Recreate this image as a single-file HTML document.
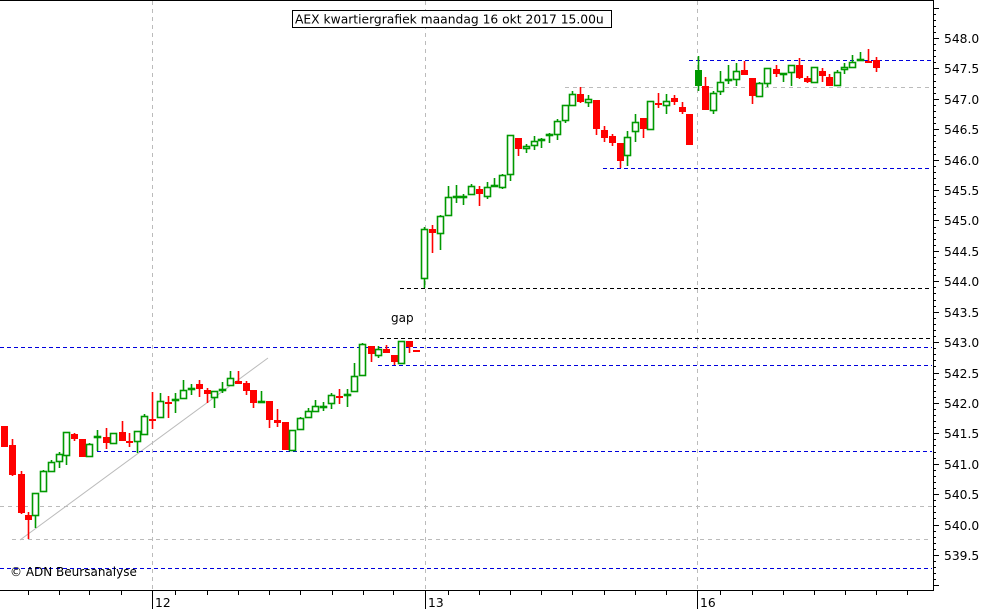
<!DOCTYPE html>
<html><head><meta charset="utf-8"><style>
html,body{margin:0;padding:0;background:#fff;}
svg{display:block;font-family:"DejaVu Sans","Liberation Sans",sans-serif;}
</style></head><body>
<svg id="s" width="982" height="609" viewBox="0 0 982 609" xmlns="http://www.w3.org/2000/svg">
<rect width="982" height="609" fill="#fff"/>
<line x1="0" y1="0.5" x2="933" y2="0.5" stroke="#000"/>
<g stroke="#bbb" stroke-dasharray="4,4" stroke-width="1">
<line x1="152.5" y1="1" x2="152.5" y2="590"/>
<line x1="425.5" y1="1" x2="425.5" y2="590"/>
<line x1="697.5" y1="1" x2="697.5" y2="590"/>
<line x1="565" y1="87.5" x2="932" y2="87.5"/>
<line x1="0" y1="506.5" x2="932" y2="506.5"/>
<line x1="12" y1="539.5" x2="932" y2="539.5"/>
</g>
<line x1="20" y1="540" x2="268" y2="358" stroke="#bbb" stroke-width="1"/>
<g stroke-dasharray="4,3" stroke-width="1">
<line x1="689" y1="60.5" x2="932" y2="60.5" stroke="#0000dd"/>
<line x1="603" y1="168.5" x2="932" y2="168.5" stroke="#0000dd"/>
<line x1="400" y1="288.5" x2="932" y2="288.5" stroke="#000"/>
<line x1="380" y1="338.5" x2="932" y2="338.5" stroke="#000"/>
<line x1="0" y1="347.5" x2="932" y2="347.5" stroke="#0000dd"/>
<line x1="378" y1="365.5" x2="932" y2="365.5" stroke="#0000dd"/>
<line x1="97" y1="451.5" x2="932" y2="451.5" stroke="#0000dd"/>
<line x1="0" y1="568.5" x2="932" y2="568.5" stroke="#0000dd"/>
</g>
<g id="c"></g>
<rect x="292.5" y="10.5" width="319" height="17" fill="#fff" stroke="#000"/>
<text x="295" y="23.5" font-size="12.3" fill="#000">AEX kwartiergrafiek maandag 16 okt 2017 15.00u</text>
<text x="391" y="322" font-size="12" fill="#000">gap</text>
<text x="10" y="576" font-size="12" fill="#000">© ADN Beursanalyse</text>
<line x1="0" y1="590.5" x2="933" y2="590.5" stroke="#000"/>
<line x1="933.5" y1="0" x2="933.5" y2="591" stroke="#000"/>
<g id="t" stroke="#000"></g>
<g font-size="12.3" fill="#000">
<text x="155" y="607">12</text><text x="428" y="607">13</text><text x="700" y="607">16</text>
<text x="944" y="43">548.0</text><text x="944" y="73">547.5</text><text x="944" y="104">547.0</text>
<text x="944" y="134">546.5</text><text x="944" y="165">546.0</text><text x="944" y="195">545.5</text>
<text x="944" y="225">545.0</text><text x="944" y="256">544.5</text><text x="944" y="286">544.0</text>
<text x="944" y="317">543.5</text><text x="944" y="347">543.0</text><text x="944" y="378">542.5</text>
<text x="944" y="408">542.0</text><text x="944" y="438">541.5</text><text x="944" y="469">541.0</text>
<text x="944" y="499">540.5</text><text x="944" y="530">540.0</text><text x="944" y="560">539.5</text>
</g>
</svg>
<script>
var d=[
[4,'r',426,447,426,447],[12,'r',445,475,439,476],[21,'r',474,513,471,514],[28,'r',515,520,512,539],
[35,'g',493,516,493,528],[43,'g',471,492,470,492],[51,'g',462,472,460,472],[59,'g',454,462,452,468],
[66,'g',432,456,432,465],[74,'r',434,439,433,441],[82,'r',439,457,439,457],[89,'g',444,457,443,457],
[97,'g',436,437,430,451],[106,'r',437,443,428,449],[113,'g',433,444,433,444],[122,'r',432,441,421,441],
[129,'r',441,443,433,447],[137,'g',431,442,431,453],[144,'g',416,435,414,435],[152,'r',419,420,392,429],
[160,'g',401,418,393,418],[168,'r',402,404,396,418],[175,'g',399,401,393,413],[183,'g',390,399,380,399],
[191,'g',388,390,384,395],[199,'r',384,389,380,397],[207,'r',390,394,388,403],[214,'g',391,398,391,408],
[222,'g',389,391,382,393],[230,'g',378,386,371,386],[238,'r',381,384,371,384],[246,'r',383,391,381,395],
[253,'r',390,403,390,408],[261,'g',401,402,391,403],[269,'r',401,420,401,428],[277,'r',420,423,409,427],
[285,'r',422,450,422,450],[292,'g',430,451,430,451],[300,'g',418,430,417,430],[308,'g',411,418,408,418],
[315,'g',406,412,400,412],[323,'g',406,407,402,411],[331,'g',395,404,393,409],[339,'r',396,397,389,404],
[347,'g',394,395,389,407],[354,'g',376,392,363,392],[362,'g',344,376,343,376],[371,'r',346,354,346,362],
[378,'g',349,356,346,358],[386,'r',349,353,345,353],[394,'r',355,362,355,365],[401,'g',341,364,341,364],
[409,'r',341,347,341,353],[416,'r',350,352,350,352],
[424,'g',229,279,227,288],[432,'r',229,233,225,253],[440,'g',216,234,215,250],[448,'g',197,216,186,216],
[456,'g',196,197,185,203],[463,'g',196,198,194,205],[471,'g',186,195,184,195],[479,'r',189,194,186,206],
[487,'g',187,197,182,199],[494,'g',185,186,178,187],[502,'g',175,188,174,189],[510,'g',135,175,135,181],
[518,'r',138,149,138,156],[526,'g',146,149,144,153],[534,'g',141,146,136,150],[541,'g',139,140,138,148],
[549,'g',134,135,133,143],[557,'g',121,135,119,140],[565,'g',105,121,105,123],[572,'g',94,106,91,106],
[580,'r',94,102,87,103],[588,'g',99,103,95,107],[596,'r',100,129,100,135],[604,'r',130,138,126,142],
[612,'r',136,143,134,146],[620,'r',143,161,143,168],[627,'g',137,156,131,166],[635,'g',122,132,114,142],
[643,'r',118,129,118,138],[650,'g',101,130,101,130],[658,'r',103,105,93,108],[666,'g',101,106,94,114],
[674,'r',98,102,95,105],[682,'r',107,112,102,114],[689,'r',114,145,114,145],[698,'G',70,86,56,91],
[705,'r',86,110,77,110],[713,'g',93,111,91,114],[720,'g',82,92,71,95],[728,'g',79,81,65,84],
[736,'g',71,80,63,86],[744,'r',70,75,61,75],[752,'r',78,96,78,104],[759,'g',83,97,82,97],
[767,'g',68,84,68,87],[776,'r',69,74,65,77],[783,'g',73,74,73,82],[791,'g',65,73,65,86],
[799,'r',65,78,58,79],[807,'r',78,82,76,83],[814,'g',67,83,67,83],[822,'r',71,76,68,82],
[829,'r',77,86,74,86],[837,'g',72,86,70,86],[844,'g',67,70,63,74],[852,'g',62,68,55,68],
[860,'g',59,61,52,61],[868,'r',61,62,49,62],[876,'r',60,68,57,72]];
var ns='http://www.w3.org/2000/svg',g=document.getElementById('c');
function el(n,a){var e=document.createElementNS(ns,n);for(var k in a)e.setAttribute(k,a[k]);return e;}
d.forEach(function(c){
 var x=c[0],col=c[1]=='r'?'#f00':'#090',t=c[2],b=c[3];if(b-t<2)b=t+2;
 g.appendChild(el('line',{x1:x+.5,x2:x+.5,y1:c[4],y2:c[5],stroke:col,'stroke-width':1.6}));
 if(c[1]=='g')g.appendChild(el('rect',{x:x-2.5,y:t+.5,width:6,height:b-t-1,fill:'#fff',stroke:col,'stroke-width':1.6}));
 else g.appendChild(el('rect',{x:x-3,y:t,width:7,height:b-t,fill:col}));
});
var tk=document.getElementById('t');
[28,59,89,121,175,207,238,269,300,332,363,393,448,479,510,541,572,604,635,666,720,752,783,814,845,876,907].forEach(function(x){
 tk.appendChild(el('line',{x1:x+.5,x2:x+.5,y1:590,y2:595}));});
[152,425,697].forEach(function(x){tk.appendChild(el('line',{x1:x+.5,x2:x+.5,y1:590,y2:609}));});
for(var p=5370;p<=5490;p++){var y=38+(548-p/10)*60.82;if(y<2||y>588)continue;
 var L=(p%5==0)?6:3;tk.appendChild(el('line',{x1:933,x2:933+L,y1:Math.round(y)+.5,y2:Math.round(y)+.5}));}
</script>
</body></html>
